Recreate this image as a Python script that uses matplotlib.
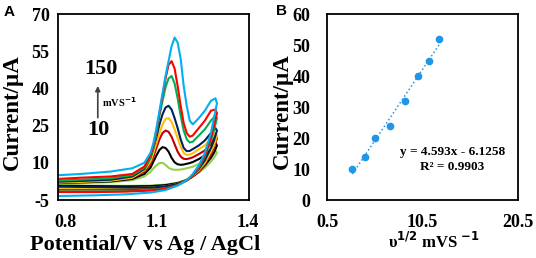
import numpy as np
import matplotlib
matplotlib.use("Agg")
import matplotlib.pyplot as plt

plt.rcParams["font.family"] = ["Liberation Serif", "DejaVu Serif"]
plt.rcParams["font.weight"] = "bold"
plt.rcParams["axes.unicode_minus"] = False

# Panel A - cyclic voltammograms at several scan rates (mV/s)
scan_rates = [10, 20, 30, 50, 75, 100, 125, 150]
colors = ["#92D050", "#000000", "#C00000", "#FFC000", "#002060", "#00B050", "#FF0000", "#00B0F0"]

# forward (anodic) sweep
x_fwd = [0.775, 0.85, 0.95, 1.02, 1.06, 1.08, 1.09, 1.10, 1.11, 1.12, 1.13, 1.14,
         1.15, 1.16, 1.17, 1.18, 1.19, 1.20, 1.21, 1.22, 1.24, 1.26, 1.28, 1.295]
i_fwd = {
    10:  [1.5, 1.8, 2.2, 3.0, 4.5, 6.3, 7.8, 9.0, 9.9, 10.0, 9.2, 8.0,
          7.4, 7.2, 7.2, 7.3, 7.5, 7.8, 8.1, 8.4, 9.5, 11.0, 13.0, 15.0],
    20:  [1.8, 2.1, 2.5, 3.5, 5.5, 8.0, 10.5, 13.0, 15.2, 16.3, 16.0, 14.5,
          12.0, 10.2, 9.4, 9.2, 9.3, 9.6, 9.9, 10.3, 11.5, 13.0, 15.5, 18.0],
    30:  [2.2, 2.5, 2.9, 3.9, 6.5, 9.5, 12.5, 16.0, 19.5, 22.0, 23.0, 22.5,
          20.5, 17.5, 14.5, 12.5, 11.6, 11.5, 11.8, 12.2, 13.5, 15.0, 17.5, 21.0],
    50:  [2.0, 2.3, 2.8, 4.0, 7.0, 10.5, 14.0, 18.0, 22.0, 25.5, 27.7, 28.0,
          26.5, 23.5, 20.0, 16.5, 14.0, 13.2, 13.3, 13.8, 15.5, 17.0, 19.5, 22.0],
    75:  [2.4, 2.7, 3.2, 4.5, 7.5, 12.0, 16.0, 20.5, 25.5, 29.5, 32.3, 33.0,
          31.5, 28.0, 24.0, 19.5, 16.0, 14.7, 14.8, 15.5, 17.0, 19.0, 22.0, 24.0],
    100: [2.8, 3.2, 3.8, 5.0, 8.0, 12.0, 16.0, 22.0, 29.0, 35.0, 40.5, 44.0,
          45.0, 42.0, 36.0, 29.0, 23.0, 19.5, 18.2, 18.5, 21.0, 23.5, 27.0, 29.0],
    125: [3.5, 4.0, 4.5, 5.5, 8.5, 13.0, 17.0, 23.0, 30.0, 37.0, 44.0, 49.5,
          51.0, 48.0, 41.0, 33.0, 26.0, 22.0, 20.5, 21.0, 24.0, 27.0, 31.0, 31.5],
    150: [5.0, 5.5, 6.5, 7.8, 10.0, 14.0, 18.0, 24.0, 31.0, 38.0, 45.0, 51.0,
          57.0, 60.5, 58.5, 52.0, 41.0, 33.0, 27.0, 25.5, 28.0, 31.0, 35.0, 36.0],
}

# reverse (cathodic) sweep
x_rev = [1.30, 1.29, 1.28, 1.26, 1.24, 1.22, 1.20, 1.17, 1.13, 1.08, 1.00, 0.90, 0.775]
i_rev = {
    10:  [14.0, 12.0, 10.5, 8.0, 6.0, 4.5, 3.2, 2.0, 1.2, 0.8, 0.7, 0.8, 0.9],
    20:  [17.0, 14.0, 12.0, 9.0, 6.5, 4.5, 3.0, 1.8, 1.0, 0.6, 0.5, 0.6, 0.7],
    30:  [20.0, 16.0, 13.5, 9.5, 6.5, 4.5, 2.8, 1.2, 0.2, -0.4, -0.7, -0.8, -0.8],
    50:  [21.0, 17.0, 14.5, 10.0, 7.0, 4.8, 3.0, 1.5, 0.5, 0.0, -0.2, -0.2, -0.2],
    75:  [23.0, 19.0, 16.0, 11.0, 7.5, 5.0, 3.0, 1.5, 0.5, 0.0, 0.0, 0.2, 0.4],
    100: [28.0, 23.0, 19.0, 12.5, 8.0, 5.0, 3.0, 1.0, -0.3, -1.0, -1.4, -1.6, -1.6],
    125: [30.0, 25.0, 20.0, 13.0, 8.5, 5.0, 3.0, 1.0, -0.5, -1.2, -1.6, -1.8, -1.8],
    150: [34.0, 28.0, 22.0, 14.0, 9.0, 5.5, 3.0, 0.8, -1.0, -2.0, -2.7, -3.1, -3.4],
}

# Panel B - peak current vs square root of scan rate
sqrt_v = [3.16, 4.47, 5.48, 7.07, 8.66, 10.0, 11.18, 12.25]
ip = [10, 14, 20, 24, 32, 40, 45, 52]
slope, intercept = 4.593, -6.1258

fig = plt.figure(figsize=(5.36, 2.58), dpi=100)
axA = fig.add_axes([0.1082, 0.2248, 0.3564, 0.7209])
axB = fig.add_axes([0.6101, 0.2248, 0.3563, 0.7209])

for v, c in zip(scan_rates, colors):
    xs = x_fwd + x_rev
    ys = i_fwd[v] + i_rev[v]
    axA.plot(xs, ys, color=c, lw=1.5, solid_joinstyle="round")

axA.set_xlim(0.7745, 1.406)
axA.set_ylim(-5, 70)
axA.set_xticks([0.8, 1.1, 1.4])
axA.set_yticks([-5, 10, 25, 40, 55, 70])
axA.set_xticklabels(["0.8", "1.1", "1.4"])

# scan-rate arrow 10 -> 150 mV/s
axA.annotate("", xy=(0.906, 41.0), xytext=(0.906, 28.2),
             arrowprops=dict(arrowstyle="-|>", color="#404040", lw=1.2,
                             mutation_scale=7, shrinkA=0, shrinkB=0))
axA.text(0.917, 47.7, "150", fontsize=16, ha="center", va="center")
axA.text(0.907, 23.4, "10", fontsize=16, ha="center", va="center")
axA.text(0.921, 34.3, r"mVS$^{\mathbf{-1}}$", fontsize=7.5, ha="left", va="center")

axB.plot(sqrt_v, ip, "o", color="#2196E8", ms=4.5, mec="#2196E8")
tx = np.array([sqrt_v[0], sqrt_v[-1]])
axB.plot(tx, slope * tx + intercept, ":", color="#2196E8", lw=1.1)
axB.set_xlim(0.5, 20.5)
axB.set_ylim(0, 60)
axB.set_xticks([0.5, 10.5, 20.5])
axB.set_yticks(range(0, 61, 10))
axB.text(13.7, 15.5, "y = 4.593x - 6.1258", fontsize=9.5, ha="center", va="center")
axB.text(13.6, 10.6, "R² = 0.9903", fontsize=9.5, ha="center", va="center")

for ax in (axA, axB):
    for s in ax.spines.values():
        s.set_linewidth(1.3)
    ax.tick_params(length=0, labelsize=13)
    for lab in ax.get_xticklabels() + ax.get_yticklabels():
        lab.set_fontweight("bold")
axA.tick_params(axis="y", pad=6)
axA.tick_params(axis="x", pad=10)
axB.tick_params(axis="y", pad=12)
axB.tick_params(axis="x", pad=10)

fig.text(0.2705, 0.050, "Potential/V vs Ag / AgCl", fontsize=16, ha="center", va="center")
fig.text(0.024, 0.566, "Current/µA", fontsize=16.5, rotation=90, ha="center", va="center")
fig.text(0.8097, 0.062, r"υ$^{\mathbf{1/2}}$ mVS $^{\mathbf{-1}}$", fontsize=12, ha="center", va="center")
fig.text(0.526, 0.570, "Current/µA", fontsize=16.5, rotation=90, ha="center", va="center")
fig.text(0.017, 0.952, "A", fontsize=11, family="Liberation Sans", ha="center", va="center")
fig.text(0.526, 0.957, "B", fontsize=11, family="Liberation Sans", ha="center", va="center")

fig.savefig("out.png", dpi=100)
